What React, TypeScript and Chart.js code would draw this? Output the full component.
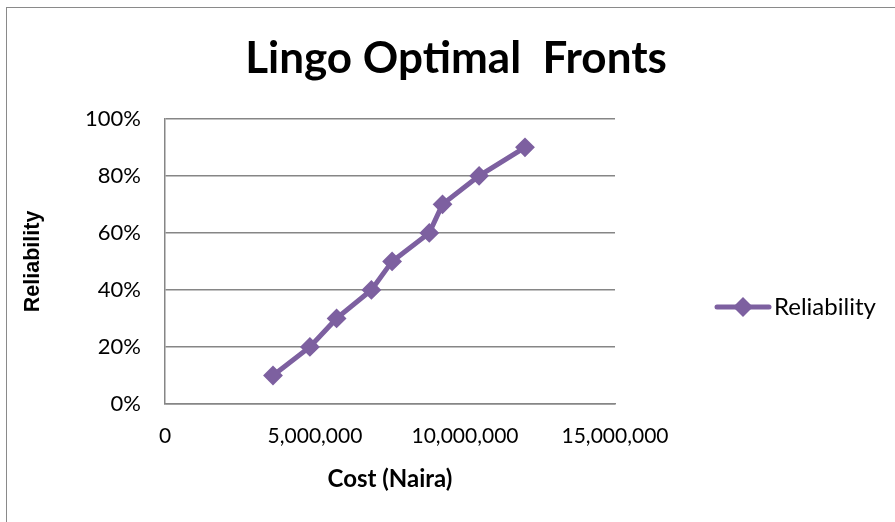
import React, { useEffect, useRef } from "react";
import { Chart, registerables } from "chart.js";

Chart.register(...registerables);

const seriesName = "Reliability";
const costs = [3600000, 4830000, 5720000, 6880000, 7570000, 8810000, 9250000, 10470000, 12000000];
const reliability = [0.1, 0.2, 0.3, 0.4, 0.5, 0.6, 0.7, 0.8, 0.9];
const titleText = "Lingo Optimal  Fronts";
const xTitle = "Cost (Naira)";
const yTitle = "Reliability";

const PURPLE = "#7D60A0";
const GRID = "#868686";

const sideLegend = {
  id: "sideLegend",
  afterDraw(chart: any) {
    const ctx = chart.ctx;
    const ds = chart.data.datasets[0];
    const area = chart.chartArea;
    const x0 = area.right + 102;
    const y = 307;
    ctx.save();
    ctx.strokeStyle = ds.borderColor;
    ctx.lineWidth = 5;
    ctx.lineCap = "round";
    ctx.beginPath();
    ctx.moveTo(x0, y);
    ctx.lineTo(x0 + 52, y);
    ctx.stroke();
    ctx.fillStyle = ds.borderColor;
    const cx = x0 + 26;
    ctx.beginPath();
    ctx.moveTo(cx, y - 10);
    ctx.lineTo(cx + 10, y);
    ctx.lineTo(cx, y + 10);
    ctx.lineTo(cx - 10, y);
    ctx.closePath();
    ctx.fill();
    ctx.fillStyle = "#000";
    ctx.font = "24px Lato";
    ctx.textBaseline = "middle";
    ctx.textAlign = "left";
    ctx.fillText(ds.label, x0 + 57, y);
    ctx.restore();
  },
};

export default function App() {
  const ref = useRef<HTMLCanvasElement>(null);
  useEffect(() => {
    if (!ref.current) return;
    const chart = new Chart(ref.current, {
      type: "line",
      data: {
        datasets: [
          {
            label: seriesName,
            data: costs.map((c, i) => ({ x: c, y: reliability[i] })),
            borderColor: PURPLE,
            backgroundColor: PURPLE,
            borderWidth: 5,
            pointStyle: "rectRot",
            pointRadius: 8.5,
            pointBorderWidth: 2,
            pointBorderColor: PURPLE,
            pointBackgroundColor: PURPLE,
            tension: 0,
          },
        ],
      },
      plugins: [sideLegend],
      options: {
        responsive: false,
        animation: false,
        devicePixelRatio: 1,
        layout: { padding: { left: 17, right: 0, top: 0, bottom: 0 } },
        plugins: {
          title: {
            display: true,
            text: titleText,
            color: "#000",
            font: { family: "Lato", size: 44, weight: "bold", lineHeight: 1.2 },
            padding: { top: 32, bottom: 34 },
          },
          legend: { display: false },
          tooltip: { enabled: false },
        },
        scales: {
          x: {
            type: "linear",
            min: 0,
            max: 15000000,
            afterFit: (s: any) => {
              s.height = 118;
            },
            ticks: {
              stepSize: 5000000,
              padding: 20,
              color: "#000",
              font: { family: "Lato", size: 21 },
              callback: (v: any) => (v === 0 ? "0" : Number(v).toLocaleString("en-US")),
              maxRotation: 0,
            },
            grid: { display: false, drawTicks: false },
            border: { display: true, color: GRID, width: 1.5 },
            title: {
              display: true,
              text: xTitle,
              color: "#000",
              font: { family: "Lato", size: 24, weight: "bold", lineHeight: 1.2 },
              padding: { top: 0, bottom: 28 },
            },
          },
          y: {
            type: "linear",
            min: 0,
            max: 1,
            afterFit: (s: any) => {
              s.width = 148;
            },
            ticks: {
              stepSize: 0.2,
              padding: 24,
              color: "#000",
              font: { family: "Lato", size: 22 },
              callback: (v: any) => Math.round(Number(v) * 100) + "%",
            },
            grid: { display: true, color: GRID, lineWidth: 1.5, drawTicks: false },
            border: { display: true, color: GRID, width: 1.5 },
            title: {
              display: true,
              text: yTitle,
              color: "#000",
              font: { family: "Liberation Sans", size: 21.5, weight: "bold", lineHeight: 1.2 },
              padding: { top: 3, bottom: 0 },
            },
          },
          legendSpace: {
            type: "linear",
            position: "right",
            display: true,
            afterFit: (s: any) => {
              s.width = 280;
            },
            ticks: { display: false },
            grid: { display: false, drawTicks: false },
            border: { display: false },
            title: { display: false },
          },
        },
      },
    });
    return () => chart.destroy();
  }, []);
  return (
    <div style={{ position: "absolute", left: 0, top: 0, width: 895, height: 522, overflow: "hidden", background: "#fff" }}>
      <canvas ref={ref} width={895} height={522} style={{ position: "absolute", left: 0, top: 0 }} />
      <div
        style={{
          position: "absolute",
          left: 6,
          top: 7,
          width: 1000,
          height: 1000,
          borderLeft: "1.5px solid #8a8a8a",
          borderTop: "1.5px solid #8a8a8a",
          pointerEvents: "none",
        }}
      />
    </div>
  );
}
